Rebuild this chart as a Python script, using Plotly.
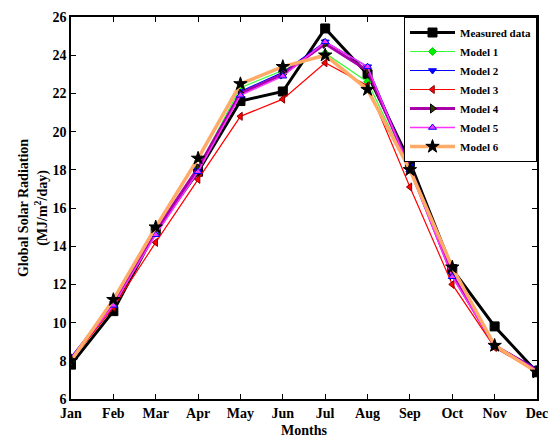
import plotly.graph_objects as go

months = ["Jan", "Feb", "Mar", "Apr", "May", "Jun", "Jul", "Aug", "Sep", "Oct", "Nov", "Dec"]
measured = [7.8, 10.6, 14.8, 17.9, 21.6, 22.1, 25.4, 23.0, 18.4, 12.8, 9.8, 7.4]
model1 = [8.0, 10.9, 14.7, 18.1, 22.3, 23.2, 24.1, 22.6, 18.0, 12.5, 8.8, 7.5]
model2 = [8.2, 11.0, 14.7, 18.0, 22.1, 23.1, 24.7, 23.4, 18.2, 12.5, 8.8, 7.6]
model3 = [8.0, 10.8, 14.2, 17.5, 20.8, 21.7, 23.6, 22.4, 17.1, 12.0, 8.7, 7.4]
model4 = [8.1, 11.0, 14.8, 18.1, 22.0, 23.0, 24.6, 23.2, 18.1, 12.5, 8.8, 7.5]
model5 = [8.1, 10.9, 14.6, 17.9, 21.9, 22.9, 24.7, 23.4, 18.0, 12.4, 8.8, 7.5]
model6 = [8.0, 11.2, 15.0, 18.6, 22.5, 23.4, 24.0, 22.2, 18.0, 12.9, 8.8, 7.4]
y_ticks = [6, 8, 10, 12, 14, 16, 18, 20, 22, 24, 26]

FONT = "Liberation Serif"

series = [
    ("Measured data", measured, "black", 3, "square", 9, "black", "black"),
    ("Model 1", model1, "#33ff33", 1.2, "diamond", 6, "#00ee00", "#00cc00"),
    ("Model 2", model2, "blue", 1.2, "triangle-down", 7, "blue", "blue"),
    ("Model 3", model3, "red", 1.2, "triangle-left", 7, "red", "#880000"),
    ("Model 4", model4, "#aa00aa", 3, "triangle-right", 8, "#333300", "black"),
    ("Model 5", model5, "#ff33ff", 1.5, "triangle-up", 7, "#ff33ff", "blue"),
    ("Model 6", model6, "#ffaa66", 3.5, "star", 10, "black", "black"),
]

fig = go.Figure()
for name, vals, lc, lw, sym, ms, mc, mlc in series:
    fig.add_trace(go.Scatter(
        x=months, y=vals, name=name, mode="lines+markers",
        line=dict(color=lc, width=lw),
        marker=dict(symbol=sym, size=ms, color=mc, line=dict(color=mlc, width=1)),
    ))

axis_common = dict(
    showline=True, linecolor="black", linewidth=1.5, mirror="ticks",
    ticks="inside", ticklen=5, tickcolor="black", tickwidth=1,
    showgrid=False, zeroline=False, automargin=False,
    tickfont=dict(family=FONT, size=14, color="black", weight="bold"),
)

fig.update_layout(
    width=552, height=443,
    margin=dict(l=71, r=15, t=17, b=44),
    plot_bgcolor="white", paper_bgcolor="white",
    font=dict(family=FONT, color="black"),
    showlegend=True,
    legend=dict(
        x=1, y=1, xanchor="right", yanchor="top",
        bgcolor="white", bordercolor="black", borderwidth=1,
        font=dict(family=FONT, size=11, color="black", weight="bold"),
        tracegroupgap=0, itemwidth=45,
    ),
    xaxis=dict(
        **axis_common,
        range=[0, 11],
        title=dict(text="Months", standoff=6,
                   font=dict(family=FONT, size=14, color="black", weight="bold")),
    ),
    yaxis=dict(
        **axis_common,
        range=[6, 26], tickvals=y_ticks,
        title=dict(text="Global Solar Radiation<br>(MJ/m<sup>2</sup>/day)", standoff=2,
                   font=dict(family=FONT, size=14, color="black", weight="bold")),
    ),
)

fig.write_html(
    "out.html",
    config={"displayModeBar": False},
    post_script="document.body.style.margin='0';document.body.style.overflow='hidden';",
)
